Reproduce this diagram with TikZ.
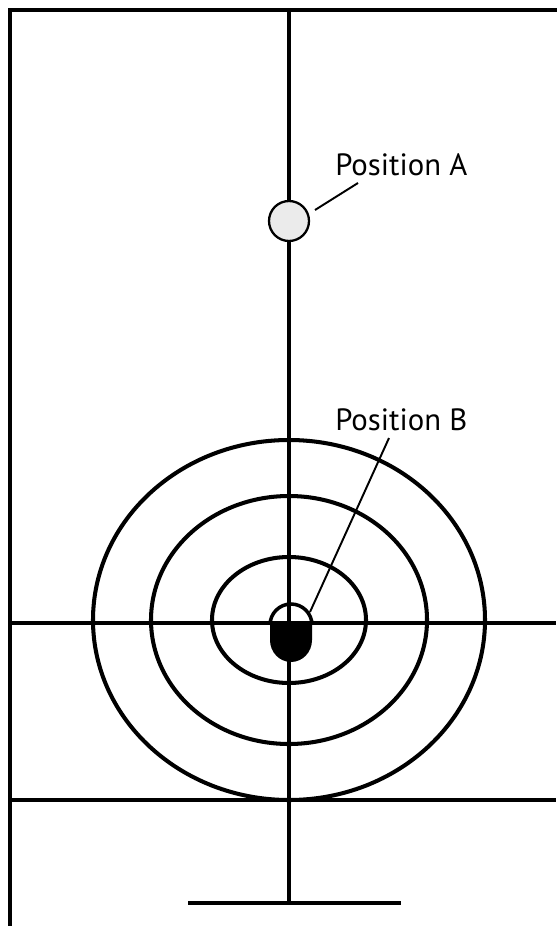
\documentclass[tikz,border=0pt]{standalone}
\usepackage{fontspec}
\setmainfont{PT Sans}
\usetikzlibrary{positioning}

\begin{document}
\begin{tikzpicture}[
    x=0.02cm, y=-0.02cm,
    frame/.style={line width=2.4pt, line cap=rect},
    axis/.style={line width=2.1pt},
    ring/.style={line width=2.3pt},
    lead/.style={line width=1.1pt},
    lbl/.style={font=\fontsize{17.5}{20}\selectfont, inner sep=0pt, anchor=base west},
    spot/.style={circle, draw, line width=1.3pt, fill=black!8, minimum size=0.8cm, inner sep=0pt},
]
\useasboundingbox (0,0) rectangle (556,926);
% frame (top and left) and the two cross lines
\draw[frame] (10,926) -- (10,10) -- (556,10);
\draw[axis] (10,623) -- (556,623);
\draw[axis] (10,800) -- (556,800);
% centre line with its foot
\draw[axis] (289,12) -- (289,903);
\draw[axis] (188,903) -- (401,903);
% target rings round position B
\coordinate (centre) at (289,620);
\draw[ring] (centre) ellipse [x radius=196, y radius=180];
\draw[ring] (centre) ellipse [x radius=138, y radius=124];
\draw[ring] (centre) ellipse [x radius=77, y radius=63];
% position A
\node[spot] (posA) at (289,221) {};
\node[lbl] (labA) at (335,175) {Position A};
\coordinate (legA) at (315,210);
\coordinate (tipA) at (358,183);
\draw[lead] (legA) -- (tipA);
% position B: open cap above, filled body below
\coordinate (posB) at (291,623);
\fill (270,623) -- (270,640) arc[start angle=180, end angle=0, x radius=21, y radius=22] -- (312,623) -- cycle;
\draw[line width=2pt] (270,625) arc[start angle=180, end angle=360, radius=21];
\node[lbl] (labB) at (335,430) {Position B};
\coordinate (legB) at (310,612);
\coordinate (tipB) at (389,438);
\draw[lead] (legB) -- (tipB);
\end{tikzpicture}
\end{document}
